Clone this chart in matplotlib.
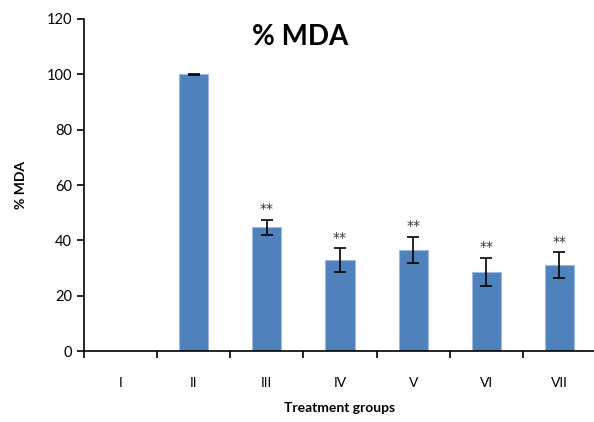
import matplotlib
matplotlib.use("Agg")
import matplotlib.pyplot as plt
import numpy as np

groups = ["I", "II", "III", "IV", "V", "VI", "VII"]
mda = [0, 100, 44.8, 32.9, 36.7, 28.7, 31.0]
sem = [0, 0.2, 2.7, 4.2, 4.7, 5.0, 4.7]
signif = ["", "", "**", "**", "**", "**", "**"]

plt.rcParams['font.family'] = ['Lato', 'DejaVu Sans']

fig = plt.figure(figsize=(5.94, 4.22), dpi=100)
ax = fig.add_axes([0.1414, 0.168, 0.862, 0.787])

x = np.arange(len(groups))
ax.bar(x, mda, width=0.4, color="#4F81BD", edgecolor="#9DB9DE", linewidth=0.8, zorder=2)
ax.errorbar(x[1:], mda[1:], yerr=sem[1:], fmt="none", ecolor="black", elinewidth=1.2,
            capsize=4, capthick=1.2, zorder=3)
for xi, m, s, t in zip(x, mda, sem, signif):
    if t:
        ax.text(xi, m + s + 3.8, t, ha="center", va="center", fontsize=10,
                color="#333333", family="DejaVu Sans")

ax.set_xlim(-0.5, 6.5)
ax.set_ylim(0, 120)
ax.set_yticks(np.arange(0, 121, 20))
ax.set_xticks(x)
ax.set_xticklabels(groups)
ax.set_xticks(np.arange(-0.5, 6.6, 1), minor=True)
ax.tick_params(axis="x", which="major", length=0, pad=19, labelsize=10)
ax.tick_params(axis="x", which="minor", length=5, direction="out", width=1.2)
ax.tick_params(axis="y", length=5, direction="out", width=1.2, labelsize=10.5)
for s in ["top", "right"]:
    ax.spines[s].set_visible(False)
for s in ["left", "bottom"]:
    ax.spines[s].set_linewidth(1.2)

ax.set_xlabel("Treatment groups", fontsize=10, fontweight="bold", labelpad=9)
ax.set_ylabel("% MDA", fontsize=10, fontweight="bold", labelpad=14)
fig.text(0.505, 0.913, "% MDA", ha="center", va="center", fontsize=20, fontweight="bold")

fig.savefig("out.png", dpi=100)
